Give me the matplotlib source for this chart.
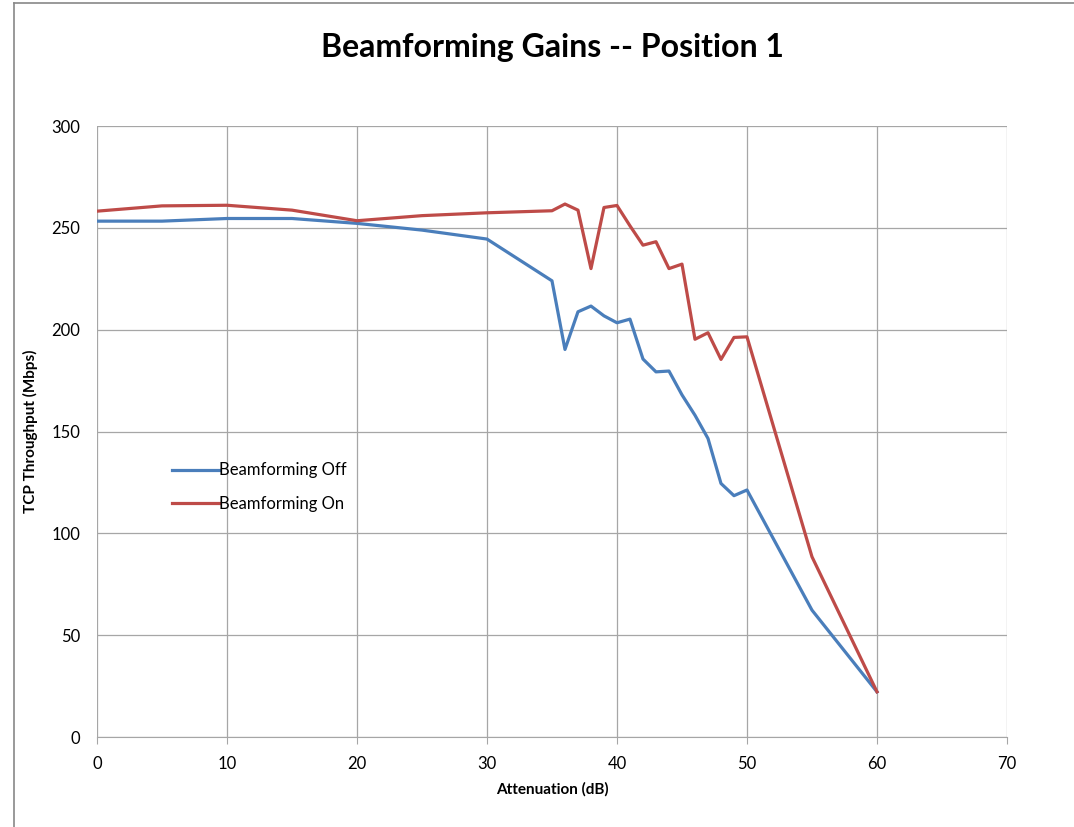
import matplotlib
matplotlib.use("Agg")
import matplotlib.pyplot as plt
from matplotlib.lines import Line2D

plt.rcParams['font.family'] = ['Lato', 'DejaVu Sans']

# attenuation points (dB)
atten = [0, 5, 10, 15, 20, 25, 30, 35, 36, 37, 38, 39, 40, 41, 42, 43, 44, 45,
         46, 47, 48, 49, 50, 55, 60]

# TCP throughput (Mbps)
bf_off = [253.3, 253.3, 254.6, 254.6, 252.2, 248.9, 244.5, 224, 190.3, 208.8, 211.6,
          206.8, 203.4, 205.2, 185.6, 179.3, 179.7, 168, 158, 146.6, 124.5, 118.5,
          121.3, 62.3, 22.2]
bf_on = [258.2, 260.8, 261.1, 258.7, 253.5, 256, 257.4, 258.4, 261.7, 258.7, 230,
         260, 261, 251, 241.5, 243.2, 230, 232.2, 195.3, 198.5, 185.4, 196.2,
         196.5, 88.5, 22.2]

blue = '#4A7EBB'
red = '#BE4B48'

fig = plt.figure(figsize=(10.74, 8.27), dpi=100)
ax = fig.add_axes([0.0903, 0.1088, 0.8473, 0.7388])

ax.plot(atten, bf_off, color=blue, lw=2.3, label='Beamforming Off')
ax.plot(atten, bf_on, color=red, lw=2.3, label='Beamforming On')

ax.set_xlim(0, 70)
ax.set_ylim(0, 300)
ax.set_xticks(range(0, 71, 10))
ax.set_yticks(range(0, 301, 50))
ax.grid(True, color='#a6a6a6', lw=0.9)
ax.set_axisbelow(True)
for side in ['top', 'right', 'left']:
    ax.spines[side].set_visible(False)
ax.spines['bottom'].set_color('#a6a6a6')
ax.tick_params(axis='x', length=5, color='#a6a6a6', labelsize=12, pad=9)
ax.tick_params(axis='y', length=0, labelsize=12, pad=12)

ax.set_title('Beamforming Gains -- Position 1', fontsize=23, fontweight='bold', pad=50)
ax.set_xlabel('Attenuation (dB)', fontsize=11, fontweight='bold', labelpad=7)
ax.set_ylabel('TCP Throughput (Mbps)', fontsize=11, fontweight='bold', labelpad=10)

ax.legend(loc='center left', bbox_to_anchor=(0.066, 0.409), frameon=False, fontsize=12,
          handlelength=2.8, handletextpad=0.0, labelspacing=1.05)

# chart frame border
fig.add_artist(Line2D([14 / 1074, 14 / 1074], [0, 1 - 3 / 827], color='#888888', lw=1.2))
fig.add_artist(Line2D([14 / 1074, 1], [1 - 3 / 827, 1 - 3 / 827], color='#888888', lw=1.2))

fig.savefig('out.png', dpi=100)
